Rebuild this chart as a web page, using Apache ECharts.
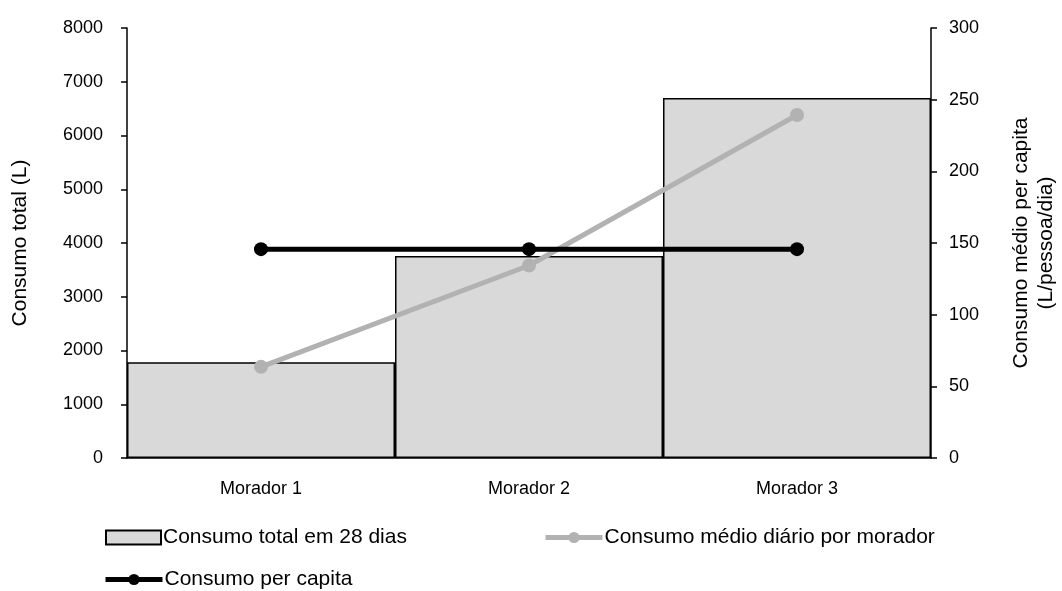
<!DOCTYPE html>
<html>
<head>
<meta charset="utf-8">
<script src="https://cdn.jsdelivr.net/npm/echarts@6/dist/echarts.min.js"></script>
<style>
  html, body { margin: 0; padding: 0; background: #fff; overflow: hidden; }
  #chart { width: 1062px; height: 591px; }
</style>
</head>
<body>
<div id="chart"></div>
<script>
// Categories (residents)
const categories = ['Morador 1', 'Morador 2', 'Morador 3'];
// Total consumption over 28 days (L)
const totalConsumption = [1780, 3760, 6700];
// Average daily consumption per resident (L/day)
const dailyAverage = [63.6, 134.3, 239.3];
// Per capita consumption (L/person/day)
const perCapita = [145.7, 145.7, 145.7];

const seriesNames = ['Consumo total em 28 dias', 'Consumo médio diário por morador', 'Consumo per capita'];

const FONT = '"Liberation Sans", Arial, sans-serif';
const tickText = { color: '#000', fontFamily: FONT, fontSize: 18 };
const bigText = { color: '#000', fontFamily: FONT, fontSize: 21 };

function legendFor(name, left, top, width, icon) {
  const lg = {
    data: [name], left: left, top: top, padding: 0,
    itemWidth: width, itemHeight: 14, itemGap: 0,
    lineStyle: { width: 5 },
    textStyle: Object.assign({}, bigText, { padding: [0, 0, 0, -3] })
  };
  if (icon) lg.icon = icon;
  return lg;
}

const chart = echarts.init(document.getElementById('chart'), null, { renderer: 'canvas', width: 1062, height: 591 });

chart.setOption({
  animation: false,
  backgroundColor: '#fff',
  grid: {
    left: 127, right: 131, top: 28, bottom: 133,
    containLabel: false, outerBoundsMode: 'none'
  },
  legend: [
    legendFor(seriesNames[0], 105, 527, 55, 'rect'),
    legendFor(seriesNames[1], 543, 527, 57),
    legendFor(seriesNames[2], 103, 569, 57)
  ],
  xAxis: {
    type: 'category',
    data: categories,
    axisLine: { lineStyle: { color: '#000', width: 1.5 } },
    axisTick: { show: false },
    axisLabel: Object.assign({}, tickText, { margin: 22 }),
    splitLine: { show: false }
  },
  yAxis: [
    {
      type: 'value', min: 0, max: 8000, interval: 1000,
      name: 'Consumo total (L)', nameLocation: 'middle', nameGap: 96,
      nameTextStyle: bigText,
      axisLine: { show: true, lineStyle: { color: '#000', width: 1.5 } },
      axisTick: { show: true, length: 6, lineStyle: { color: '#000', width: 1.5 } },
      axisLabel: Object.assign({}, tickText, { margin: 24, formatter: v => String(v) }),
      splitLine: { show: false }
    },
    {
      type: 'value', min: 0, max: 300, interval: 50,
      name: 'Consumo médio per capita\n(L/pessoa/dia)', nameLocation: 'middle', nameGap: 78,
      nameRotate: 90,
      nameTextStyle: Object.assign({}, bigText, { lineHeight: 25 }),
      axisLine: { show: true, lineStyle: { color: '#000', width: 1.5 } },
      axisTick: { show: true, length: 6, lineStyle: { color: '#000', width: 1.5 } },
      axisLabel: Object.assign({}, tickText, { margin: 18, formatter: v => String(v) }),
      splitLine: { show: false }
    }
  ],
  series: [
    {
      name: seriesNames[0], type: 'bar', yAxisIndex: 0,
      data: totalConsumption,
      barWidth: '100%', barCategoryGap: '0%',
      itemStyle: { color: '#d9d9d9', borderColor: '#000', borderWidth: 1.5 },
      z: 1
    },
    {
      name: seriesNames[1], type: 'line', yAxisIndex: 1,
      data: dailyAverage,
      symbol: 'circle', symbolSize: 14,
      lineStyle: { color: '#b2b2b2', width: 5 },
      itemStyle: { color: '#b2b2b2' },
      z: 3
    },
    {
      name: seriesNames[2], type: 'line', yAxisIndex: 1,
      data: perCapita,
      symbol: 'circle', symbolSize: 14,
      lineStyle: { color: '#000', width: 5 },
      itemStyle: { color: '#000' },
      z: 4
    }
  ]
});
</script>
</body>
</html>
